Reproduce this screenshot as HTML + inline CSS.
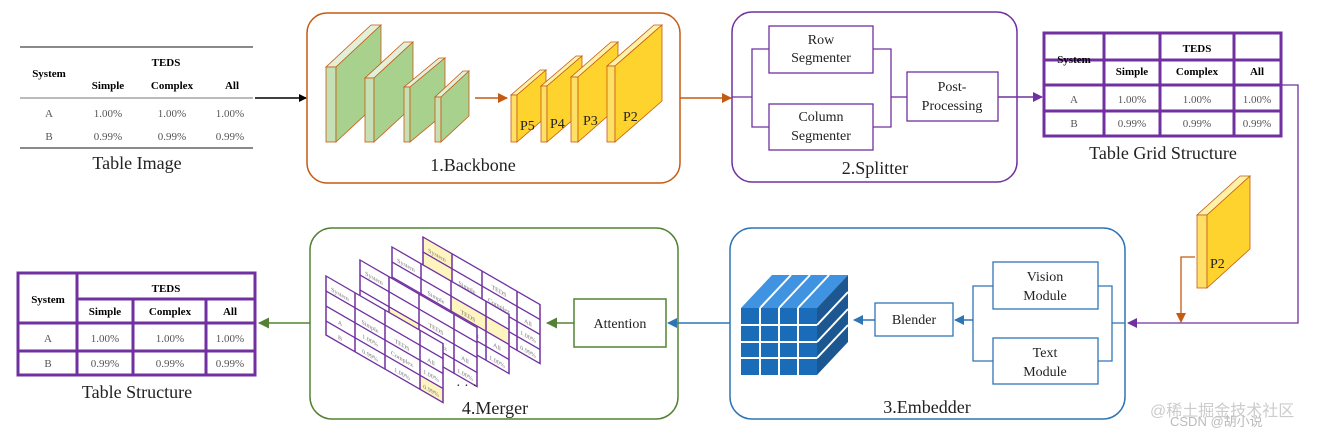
<!DOCTYPE html>
<html><head><meta charset="utf-8"><style>
html,body{margin:0;padding:0;background:#fff;}
svg{display:block;font-family:"Liberation Serif",serif;}
.b{font-weight:bold;font-size:11px;}
.v{font-size:11px;fill:#555;}
.lab{font-size:18px;fill:#222;}
.m{font-size:14px;fill:#222;}
.t{font-size:6px;fill:#777;}
</style></head><body>
<svg width="1324" height="435" viewBox="0 0 1324 435" xmlns="http://www.w3.org/2000/svg">
<defs>
<marker id="ak" markerWidth="8" markerHeight="8" refX="7" refY="4" orient="auto" markerUnits="userSpaceOnUse"><path d="M0,0 L8,4 L0,8z" fill="#000"/></marker>
<marker id="ao" markerWidth="10" markerHeight="10" refX="9" refY="5" orient="auto" markerUnits="userSpaceOnUse"><path d="M0,0 L10,5 L0,10z" fill="#c55a11"/></marker>
<marker id="ap" markerWidth="10" markerHeight="10" refX="9" refY="5" orient="auto" markerUnits="userSpaceOnUse"><path d="M0,0 L10,5 L0,10z" fill="#7030a0"/></marker>
<marker id="ab" markerWidth="10" markerHeight="10" refX="9" refY="5" orient="auto" markerUnits="userSpaceOnUse"><path d="M0,0 L10,5 L0,10z" fill="#2e75b6"/></marker>
<marker id="ag" markerWidth="11" markerHeight="11" refX="10" refY="5.5" orient="auto" markerUnits="userSpaceOnUse"><path d="M0,0 L11,5.5 L0,11z" fill="#548235"/></marker>
</defs>

<!-- Table Image -->
<g>
<line x1="20" y1="47" x2="253" y2="47" stroke="#444" stroke-width="1.2"/>
<line x1="20" y1="98" x2="253" y2="98" stroke="#777" stroke-width="1"/>
<line x1="20" y1="148" x2="253" y2="148" stroke="#444" stroke-width="1.2"/>
<g class="b" text-anchor="middle">
<text x="166" y="66">TEDS</text><text x="49" y="77">System</text>
<text x="108" y="89">Simple</text><text x="172" y="89">Complex</text><text x="232" y="89">All</text></g>
<g class="v" text-anchor="middle">
<text x="49" y="117">A</text><text x="108" y="117">1.00%</text><text x="172" y="117">1.00%</text><text x="230" y="117">1.00%</text>
<text x="49" y="140">B</text><text x="108" y="140">0.99%</text><text x="172" y="140">0.99%</text><text x="230" y="140">0.99%</text></g>
<text class="lab" x="137" y="169" text-anchor="middle">Table Image</text>
</g>
<line x1="255" y1="98" x2="306" y2="98" stroke="#000" stroke-width="1.5" marker-end="url(#ak)"/>

<!-- Backbone -->
<rect x="307" y="13" width="373" height="170" rx="20" fill="none" stroke="#c55a11" stroke-width="1.5"/>
<g stroke="#c55a11" stroke-width="0.8">
<!-- green slabs -->
<polygon points="326,67 336,67 381,25 371,25" fill="#e2f0d9"/><rect x="326" y="67" width="10" height="75" fill="#c5e0b4"/><polygon points="336,67 381,25 381,100 336,142" fill="#a9d18e"/>
<polygon points="365,78 374,78 413,42 404,42" fill="#e2f0d9"/><rect x="365" y="78" width="9" height="64" fill="#c5e0b4"/><polygon points="374,78 413,42 413,106 374,142" fill="#a9d18e"/>
<polygon points="404,87 410,87 445,58 439,58" fill="#e2f0d9"/><rect x="404" y="87" width="6" height="55" fill="#c5e0b4"/><polygon points="410,87 445,58 445,113 410,142" fill="#a9d18e"/>
<polygon points="435,97 441,97 469,71 463,71" fill="#e2f0d9"/><rect x="435" y="97" width="6" height="45" fill="#c5e0b4"/><polygon points="441,97 469,71 469,116 441,142" fill="#a9d18e"/>
<!-- yellow -->
<polygon points="511,95 517,95 546,70 540,70" fill="#fff2a8"/><rect x="511" y="95" width="6" height="47" fill="#ffe066"/><polygon points="517,95 546,70 546,117 517,142" fill="#ffd32e"/>
<polygon points="541,86 547,86 582,56 576,56" fill="#fff2a8"/><rect x="541" y="86" width="6" height="56" fill="#ffe066"/><polygon points="547,86 582,56 582,112 547,142" fill="#ffd32e"/>
<polygon points="571,77 578,77 618,42 611,42" fill="#fff2a8"/><rect x="571" y="77" width="7" height="65" fill="#ffe066"/><polygon points="578,77 618,42 618,107 578,142" fill="#ffd32e"/>
<polygon points="607,66 615,66 662,25 654,25" fill="#fff2a8"/><rect x="607" y="66" width="8" height="76" fill="#ffe066"/><polygon points="615,66 662,25 662,101 615,142" fill="#ffd32e"/>
</g>
<g class="m"><text x="520" y="130">P5</text><text x="550" y="128">P4</text><text x="583" y="125">P3</text><text x="623" y="121">P2</text></g>
<line x1="475" y1="98" x2="507" y2="98" stroke="#c55a11" stroke-width="1.5" marker-end="url(#ao)"/>
<text class="lab" x="473" y="171" text-anchor="middle">1.Backbone</text>
<line x1="680" y1="98" x2="731" y2="98" stroke="#c55a11" stroke-width="1.5" marker-end="url(#ao)"/>

<!-- Splitter -->
<rect x="732" y="12" width="285" height="170" rx="20" fill="none" stroke="#7030a0" stroke-width="1.5"/>
<g fill="none" stroke="#7030a0" stroke-width="1.3">
<rect x="769" y="26" width="104" height="47" fill="#fff"/><rect x="769" y="104" width="104" height="46" fill="#fff"/><rect x="907" y="72" width="91" height="49" fill="#fff"/>
<polyline points="732,97 752,97"/><polyline points="769,49 752,49 752,127 769,127"/>
<polyline points="873,49 891,49 891,127 873,127"/><polyline points="891,97 907,97"/>
</g>
<g class="m" text-anchor="middle"><text x="821" y="44">Row</text><text x="821" y="62">Segmenter</text>
<text x="821" y="121">Column</text><text x="821" y="140">Segmenter</text>
<text x="952" y="91">Post-</text><text x="952" y="110">Processing</text></g>
<text class="lab" x="875" y="174" text-anchor="middle">2.Splitter</text>
<line x1="998" y1="97" x2="1042" y2="97" stroke="#7030a0" stroke-width="1.5" marker-end="url(#ap)"/>

<!-- Table Grid Structure -->
<g fill="none" stroke="#7030a0" stroke-width="3">
<rect x="1044" y="33" width="237" height="103"/>
<line x1="1044" y1="60" x2="1281" y2="60"/><line x1="1044" y1="85" x2="1281" y2="85"/><line x1="1044" y1="111" x2="1281" y2="111"/>
<line x1="1104" y1="33" x2="1104" y2="136"/><line x1="1160" y1="33" x2="1160" y2="136"/><line x1="1234" y1="33" x2="1234" y2="136"/>
</g>
<g class="b" text-anchor="middle"><text x="1074" y="63">System</text><text x="1197" y="52">TEDS</text>
<text x="1132" y="75">Simple</text><text x="1197" y="75">Complex</text><text x="1257" y="75">All</text></g>
<g class="v" text-anchor="middle"><text x="1074" y="103">A</text><text x="1132" y="103">1.00%</text><text x="1197" y="103">1.00%</text><text x="1257" y="103">1.00%</text>
<text x="1074" y="127">B</text><text x="1132" y="127">0.99%</text><text x="1197" y="127">0.99%</text><text x="1257" y="127">0.99%</text></g>
<text class="lab" x="1163" y="159" text-anchor="middle">Table Grid Structure</text>
<polyline points="1281,85 1298,85 1298,323 1128,323" fill="none" stroke="#7030a0" stroke-width="1.3" marker-end="url(#ap)"/>
<!-- P2 -->
<g stroke="#c55a11" stroke-width="0.8"><polygon points="1197,215 1207,215 1250,176 1240,176" fill="#fff2a8"/><rect x="1197" y="215" width="10" height="73" fill="#ffe066"/><polygon points="1207,215 1250,176 1250,249 1207,288" fill="#ffd32e"/></g>
<text class="m" x="1210" y="268">P2</text>
<polyline points="1195,257 1181,257 1181,322" fill="none" stroke="#c55a11" stroke-width="1.3" marker-end="url(#ao)"/>

<!-- Embedder -->
<rect x="730" y="228" width="395" height="191" rx="22" fill="none" stroke="#2e75b6" stroke-width="1.5"/>
<g fill="none" stroke="#2e75b6" stroke-width="1.3">
<rect x="993" y="262" width="105" height="47"/><rect x="993" y="338" width="105" height="46"/><rect x="875" y="303" width="78" height="33"/>
<polyline points="1125,323 1112,323"/><polyline points="1098,286 1112,286 1112,361 1098,361"/>
<polyline points="993,286 973,286 973,361 993,361"/>
</g>
<line x1="973" y1="320" x2="955" y2="320" stroke="#2e75b6" stroke-width="1.5" marker-end="url(#ab)"/>
<line x1="875" y1="320" x2="854" y2="320" stroke="#2e75b6" stroke-width="1.5" marker-end="url(#ab)"/>
<g class="m" text-anchor="middle"><text x="1045" y="281">Vision</text><text x="1045" y="300">Module</text>
<text x="1045" y="357">Text</text><text x="1045" y="376">Module</text><text x="914" y="324">Blender</text></g>
<text class="lab" x="927" y="413" text-anchor="middle">3.Embedder</text>
<!-- cube -->
<g>
<polygon points="741,308 817,308 848,275 772,275" fill="#3f93e0"/>
<g stroke="#fff" stroke-width="2"><line x1="760" y1="308" x2="791" y2="275"/><line x1="779" y1="308" x2="810" y2="275"/><line x1="798" y1="308" x2="829" y2="275"/></g>
<polygon points="817,308 848,275 848,342 817,375" fill="#1d5792"/>
<g stroke="#fff" stroke-width="2"><line x1="817" y1="325" x2="848" y2="292"/><line x1="817" y1="342" x2="848" y2="309"/><line x1="817" y1="358" x2="848" y2="325"/></g>
<rect x="741" y="308" width="76" height="67" fill="#1a6bb8"/>
<g stroke="#fff" stroke-width="2"><line x1="760" y1="308" x2="760" y2="375"/><line x1="779" y1="308" x2="779" y2="375"/><line x1="798" y1="308" x2="798" y2="375"/>
<line x1="741" y1="325" x2="817" y2="325"/><line x1="741" y1="342" x2="817" y2="342"/><line x1="741" y1="358" x2="817" y2="358"/></g>
</g>
<line x1="730" y1="323" x2="668" y2="323" stroke="#2e75b6" stroke-width="1.5" marker-end="url(#ab)"/>

<!-- Merger -->
<rect x="310" y="228" width="368" height="191" rx="22" fill="none" stroke="#548235" stroke-width="1.5"/>
<rect x="574" y="299" width="92" height="48" fill="none" stroke="#548235" stroke-width="1.5"/>
<text class="m" x="620" y="328" text-anchor="middle">Attention</text>
<line x1="574" y1="323" x2="547" y2="323" stroke="#548235" stroke-width="1.5" marker-end="url(#ag)"/>
<text class="lab" x="495" y="414" text-anchor="middle">4.Merger</text>
<!-- skewed tables back to front -->
<g transform="translate(423,237) skewY(30)">
<rect x="0" y="0" width="29" height="30" fill="#fff5c0"/>
<rect x="0" y="0" width="117" height="59" fill="#fff" fill-opacity="0" stroke="#7030a0" stroke-width="1.5"/>
<g stroke="#7030a0" stroke-width="1.5"><line x1="0" y1="15" x2="117" y2="15"/><line x1="0" y1="30" x2="117" y2="30"/><line x1="0" y1="45" x2="117" y2="45"/><line x1="29" y1="0" x2="29" y2="59"/><line x1="59" y1="0" x2="59" y2="59"/><line x1="94" y1="0" x2="94" y2="59"/></g>
<g class="t" text-anchor="middle"><text x="14" y="12">System</text><text x="44" y="27">Simple</text><text x="76" y="12">TEDS</text><text x="76" y="27">Complex</text><text x="105" y="27">All</text><text x="105" y="41">1.00%</text><text x="105" y="56">0.99%</text></g>
</g>
<g transform="translate(392,247) skewY(30)">
<rect x="59" y="15" width="35" height="15" fill="#fff5c0"/><rect x="94" y="30" width="23" height="15" fill="#fff5c0"/>
<rect x="0" y="0" width="117" height="59" fill="#fff"/>
<rect x="59" y="15" width="35" height="15" fill="#fff5c0"/><rect x="94" y="15" width="23" height="15" fill="#fff5c0"/>
<rect x="0" y="0" width="117" height="59" fill="none" stroke="#7030a0" stroke-width="1.5"/>
<g stroke="#7030a0" stroke-width="1.5"><line x1="0" y1="15" x2="117" y2="15"/><line x1="0" y1="30" x2="117" y2="30"/><line x1="0" y1="45" x2="117" y2="45"/><line x1="29" y1="0" x2="29" y2="59"/><line x1="59" y1="0" x2="59" y2="59"/><line x1="94" y1="0" x2="94" y2="59"/></g>
<g class="t" text-anchor="middle"><text x="14" y="12">System</text><text x="44" y="27">Simple</text><text x="76" y="27">TEDS</text><text x="76" y="41">Complex</text><text x="105" y="41">All</text><text x="105" y="56">1.00%</text></g>
</g>
<g transform="translate(360,260) skewY(30)">
<rect x="0" y="0" width="117" height="59" fill="#fff"/>
<rect x="29" y="30" width="30" height="15" fill="#fff5c0"/>
<rect x="0" y="0" width="117" height="59" fill="none" stroke="#7030a0" stroke-width="1.5"/>
<g stroke="#7030a0" stroke-width="1.5"><line x1="0" y1="15" x2="117" y2="15"/><line x1="0" y1="30" x2="117" y2="30"/><line x1="0" y1="45" x2="117" y2="45"/><line x1="29" y1="0" x2="29" y2="59"/><line x1="59" y1="0" x2="59" y2="59"/><line x1="94" y1="0" x2="94" y2="59"/></g>
<g class="t" text-anchor="middle"><text x="14" y="12">System</text><text x="44" y="41">Simple</text><text x="76" y="27">TEDS</text><text x="76" y="41">Complex</text><text x="105" y="41">All</text><text x="105" y="56">1.00%</text></g>
</g>
<g transform="translate(326,276) skewY(30)">
<rect x="0" y="0" width="117" height="59" fill="#fff"/>
<rect x="94" y="45" width="23" height="14" fill="#fff5c0"/>
<rect x="0" y="0" width="117" height="59" fill="none" stroke="#7030a0" stroke-width="1.5"/>
<g stroke="#7030a0" stroke-width="1.5"><line x1="0" y1="15" x2="117" y2="15"/><line x1="0" y1="30" x2="117" y2="30"/><line x1="0" y1="45" x2="117" y2="45"/><line x1="29" y1="0" x2="29" y2="59"/><line x1="59" y1="0" x2="59" y2="59"/><line x1="94" y1="0" x2="94" y2="59"/></g>
<g class="t" text-anchor="middle"><text x="14" y="12">System</text><text x="14" y="41">A</text><text x="14" y="56">B</text><text x="44" y="27">Simple</text><text x="44" y="41">1.00%</text><text x="44" y="56">0.99%</text><text x="76" y="27">TEDS</text><text x="76" y="41">Complex</text><text x="76" y="56">1.00%</text><text x="105" y="27">All</text><text x="105" y="41">1.00%</text><text x="105" y="56">0.99%</text></g>
</g>
<text x="456" y="390" font-size="14" fill="#222">· · ·</text>

<!-- Table Structure -->
<g fill="none" stroke="#7030a0" stroke-width="3">
<rect x="18" y="273" width="237" height="102"/>
<line x1="77" y1="299" x2="255" y2="299"/><line x1="18" y1="323" x2="255" y2="323"/><line x1="18" y1="351" x2="255" y2="351"/>
<line x1="77" y1="273" x2="77" y2="375"/><line x1="133" y1="299" x2="133" y2="375"/><line x1="206" y1="299" x2="206" y2="375"/>
</g>
<g class="b" text-anchor="middle"><text x="48" y="303">System</text><text x="166" y="292">TEDS</text>
<text x="105" y="315">Simple</text><text x="170" y="315">Complex</text><text x="230" y="315">All</text></g>
<g class="v" text-anchor="middle"><text x="48" y="342">A</text><text x="105" y="342">1.00%</text><text x="170" y="342">1.00%</text><text x="230" y="342">1.00%</text>
<text x="48" y="367">B</text><text x="105" y="367">0.99%</text><text x="170" y="367">0.99%</text><text x="230" y="367">0.99%</text></g>
<text class="lab" x="137" y="398" text-anchor="middle">Table Structure</text>
<line x1="310" y1="323" x2="259" y2="323" stroke="#548235" stroke-width="1.5" marker-end="url(#ag)"/>

<!-- watermark -->
<text x="1150" y="416" font-family="'Liberation Sans','Noto Sans CJK SC',sans-serif" font-size="16" fill="#ccc">@稀土掘金技术社区</text>
<text x="1170" y="426" font-family="'Liberation Sans','Noto Sans CJK SC',sans-serif" font-size="13" fill="#bbb">CSDN @胡小说</text>
</svg>
</body></html>
